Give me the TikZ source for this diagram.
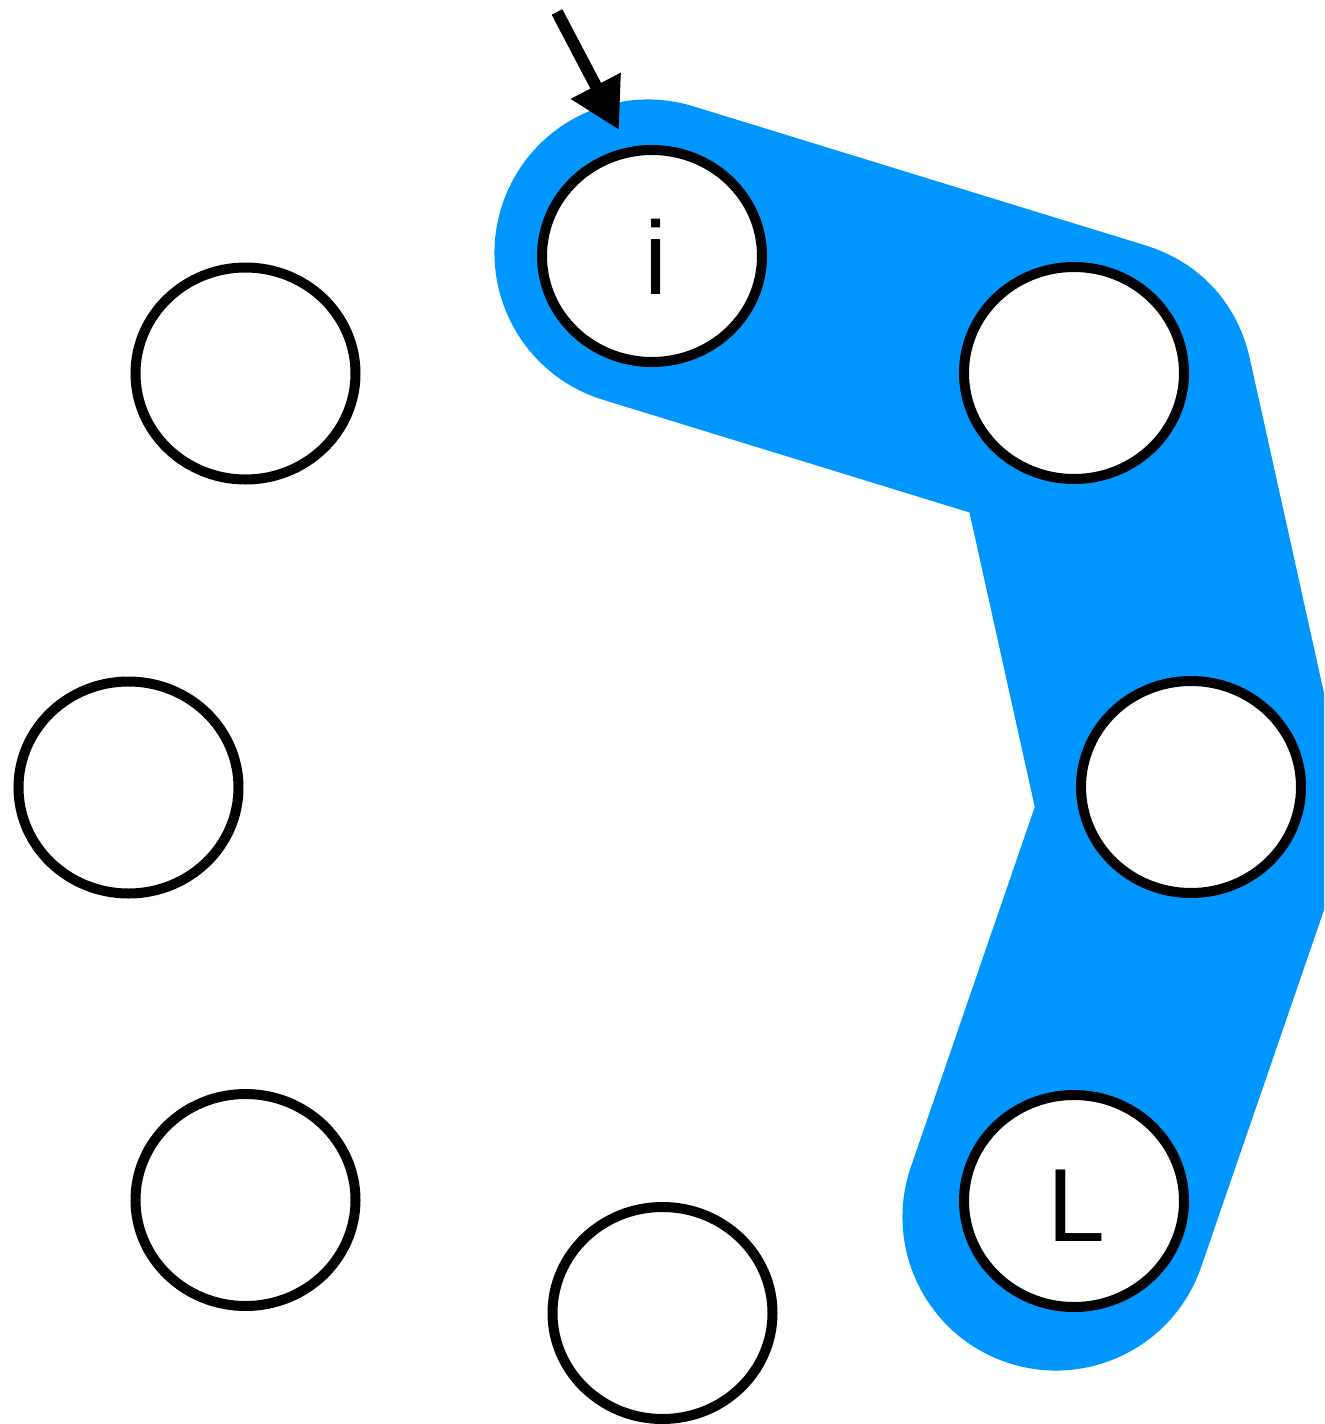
\documentclass[tikz,border=0pt]{standalone}
\usepackage{fontspec}
\setmainfont{Liberation Sans}
\usetikzlibrary{shapes.geometric,arrows.meta}
\definecolor{bandblue}{RGB}{0,150,255}
\tikzset{
  slot/.style={ellipse, draw=black, line width=5pt, fill=white, inner sep=0pt,
    minimum width=110pt, minimum height=106pt},
  lbl/.style={anchor=base, inner sep=0pt, font=\fontsize{52}{60}\selectfont},
  band/.style={draw=bandblue, line width=153.5pt, line cap=round, line join=round},
  pointer/.style={draw=black, line width=6pt, -{Triangle[length=25pt,width=26.5pt]}}
}
\begin{document}
\begin{tikzpicture}[x=0.5pt,y=-0.5pt]
\useasboundingbox (0,0) rectangle (1324,1424);
\clip (0,0) rectangle (1324,1424);
% band
\coordinate (b0) at (648,253);
\coordinate (b1) at (1100,392);
\coordinate (b2) at (1194,816);
\coordinate (b3) at (1056,1217);
\draw[band] (b0) -- (b1) -- (b2) -- (b3);
% circles
\node[slot] (ni) at (652,256) {};
\node[slot] (nrt) at (1074,373) {};
\node[slot] (nlt) at (245.5,373.5) {};
\node[slot] (nlm) at (128.5,787.5) {};
\node[slot] (nrm) at (1191,787) {};
\node[slot] (nlb) at (245.5,1200) {};
\node[slot] (nb) at (662.5,1313) {};
\node[slot] (nL) at (1074,1201) {};
% labels
\node[lbl] (ti) at (656,294) {i};
\node[lbl] (tL) at (1076,1241) {L};
% arrow
\coordinate (a0) at (557,12);
\coordinate (a1) at (619,130);
\draw[pointer] (a0) -- (a1);
\end{tikzpicture}
\end{document}
